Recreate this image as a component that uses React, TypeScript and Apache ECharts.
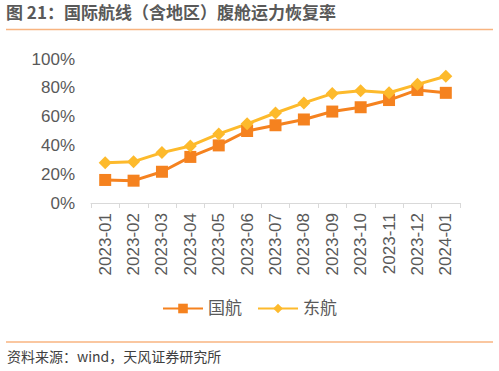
import React, { useEffect, useRef } from "react";
import * as echarts from "echarts";

const categories = [
  "2023-01", "2023-02", "2023-03", "2023-04", "2023-05", "2023-06", "2023-07",
  "2023-08", "2023-09", "2023-10", "2023-11", "2023-12", "2024-01",
];
const airChina = [0.16, 0.155, 0.217, 0.32, 0.4, 0.5, 0.54, 0.58, 0.635, 0.665, 0.715, 0.785, 0.765];
const chinaEastern = [0.28, 0.287, 0.35, 0.396, 0.48, 0.55, 0.625, 0.695, 0.76, 0.78, 0.766, 0.824, 0.88];
const seriesNames = ["国航", "东航"];
const titleText = "图 21：国际航线（含地区）腹舱运力恢复率";
const sourceText = "资料来源：wind，天风证券研究所";

export default function App() {
  const ref = useRef<HTMLDivElement>(null);
  useEffect(() => {
    document.body.style.margin = "0";
    const chart = echarts.init(ref.current!, null, { renderer: "svg" });
    const font = "'Liberation Sans', Arial, 'Noto Sans CJK SC', sans-serif";
    chart.setOption({
      animation: false,
      backgroundColor: "#ffffff",
      textStyle: { fontFamily: font },
      grid: { left: 91, right: 39, top: 59, height: 144, containLabel: false },
      legend: {
        data: seriesNames,
        bottom: 49,
        left: "center",
        itemWidth: 40,
        itemHeight: 12,
        itemGap: 15,
        textStyle: { fontSize: 17, color: "#595959", fontFamily: font },
      },
      xAxis: {
        type: "category",
        data: categories,
        boundaryGap: true,
        axisLine: { lineStyle: { color: "#d9d9d9", width: 1 } },
        axisTick: { show: true, length: 5, lineStyle: { color: "#d9d9d9" } },
        axisLabel: { rotate: 90, fontSize: 17, color: "#595959", margin: 10, interval: 0 },
      },
      yAxis: {
        type: "value",
        min: 0,
        max: 1,
        interval: 0.2,
        axisLine: { show: false },
        axisTick: { show: false },
        splitLine: { show: false },
        axisLabel: {
          fontSize: 17,
          color: "#595959",
          margin: 16,
          formatter: (v: number) => Math.round(v * 100) + "%",
        },
      },
      series: [
        {
          name: seriesNames[0],
          type: "line",
          data: airChina,
          symbol: "rect",
          symbolSize: 12,
          lineStyle: { width: 3, color: "#F5821F" },
          itemStyle: { color: "#F5821F" },
        },
        {
          name: seriesNames[1],
          type: "line",
          data: chinaEastern,
          symbol: "diamond",
          symbolSize: 13,
          lineStyle: { width: 3, color: "#FDBA2C" },
          itemStyle: { color: "#FDBA2C" },
        },
      ],
      graphic: [
        {
          type: "text",
          left: 6,
          top: 3,
          style: {
            text: titleText,
            fontSize: 17,
            fontWeight: "bold",
            fill: "#595959",
            fontFamily: "'Noto Sans CJK SC', sans-serif",
          },
        },
        {
          type: "line",
          shape: { x1: 6, y1: 29.5, x2: 493, y2: 29.5 },
          style: { stroke: "#F8B480", lineWidth: 1.5 },
        },
        {
          type: "line",
          shape: { x1: 6, y1: 342, x2: 493, y2: 342 },
          style: { stroke: "#F8B480", lineWidth: 1.5 },
        },
        {
          type: "text",
          left: 7,
          top: 349,
          style: {
            text: sourceText,
            fontSize: 14,
            fill: "#404040",
            fontFamily: "'Noto Sans CJK SC', sans-serif",
          },
        },
      ],
    });
    return () => chart.dispose();
  }, []);
  return <div ref={ref} style={{ width: 499, height: 371 }} />;
}
